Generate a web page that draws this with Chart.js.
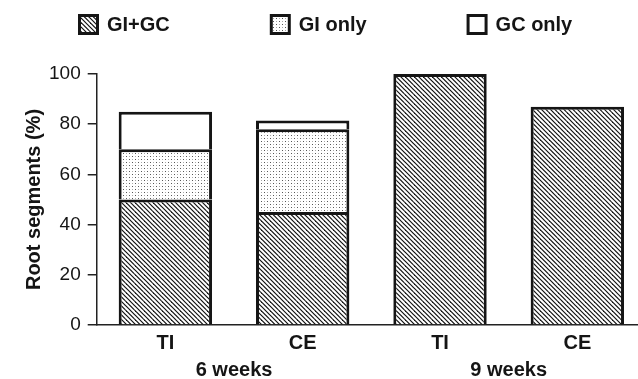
<!DOCTYPE html>
<html>
<head>
<meta charset="utf-8">
<script src="https://cdn.jsdelivr.net/npm/chart.js@4.4.1/dist/chart.umd.min.js"></script>
<style>
  html, body { margin: 0; padding: 0; background: #fff; overflow: hidden; }
  #wrap { width: 646px; height: 379px; }
</style>
</head>
<body>
<div id="wrap"><canvas id="grafico" width="646" height="379"></canvas></div>
<script>
// datos
const categorias = ["TI", "CE", "TI", "CE"];
const grupos = ["6 weeks", "9 weeks"];
const giGc = [50, 45, 100, 87];
const giSolo = [20, 33, null, null];
const gcSolo = [15, 3.5, null, null];
const ticksY = [0, 20, 40, 60, 80, 100];

const FUENTE = "'Liberation Sans', Arial, sans-serif";
const NEGRO = "#151515";

// rayado diagonal
function patronRayado() {
  const c = document.createElement("canvas");
  c.width = 9; c.height = 9;
  const g = c.getContext("2d");
  g.fillStyle = "#fff";
  g.fillRect(0, 0, 9, 9);
  g.strokeStyle = "#111";
  g.lineWidth = 1.2;
  for (let k = -9; k <= 9; k += 4.5) {
    g.beginPath();
    g.moveTo(k - 2, -2);
    g.lineTo(k + 11, 11);
    g.stroke();
  }
  return g.createPattern(c, "repeat");
}

// punteado
function patronPuntos() {
  const c = document.createElement("canvas");
  c.width = 6; c.height = 6;
  const g = c.getContext("2d");
  g.fillStyle = "#fff";
  g.fillRect(0, 0, 6, 6);
  g.fillStyle = "#555";
  g.fillRect(0, 0, 1, 1);
  g.fillRect(3, 3, 1, 1);
  g.fillStyle = "#aaa";
  g.fillRect(3, 0, 1, 1);
  g.fillRect(0, 3, 1, 1);
  return g.createPattern(c, "repeat");
}

// leyenda arriba
const leyenda = {
  id: "leyenda",
  afterDraw(chart) {
    const ctx = chart.ctx;
    ctx.save();
    ctx.font = "bold 20px " + FUENTE;
    ctx.textBaseline = "middle";
    let x = 78;
    const y = 14, lado = 21;
    chart.data.datasets.forEach(ds => {
      ctx.fillStyle = ds.backgroundColor;
      ctx.fillRect(x, y, lado, lado);
      ctx.lineWidth = 3;
      ctx.strokeStyle = NEGRO;
      ctx.strokeRect(x + 1.5, y + 1.5, lado - 3, lado - 3);
      ctx.fillStyle = NEGRO;
      ctx.fillText(ds.label, x + lado + 8, y + lado / 2 + 1);
      x += lado + 8 + ctx.measureText(ds.label).width + 100;
    });
    ctx.restore();
  }
};

// etiquetas de grupo bajo el eje x
const etiquetasGrupo = {
  id: "etiquetasGrupo",
  afterDraw(chart) {
    const ctx = chart.ctx;
    const xs = chart.scales.x;
    ctx.save();
    ctx.font = "bold 20px " + FUENTE;
    ctx.fillStyle = NEGRO;
    ctx.textAlign = "center";
    ctx.textBaseline = "middle";
    grupos.forEach((g, i) => {
      const x = (xs.getPixelForValue(2 * i) + xs.getPixelForValue(2 * i + 1)) / 2;
      ctx.fillText(g, x, xs.bottom + 9);
    });
    ctx.restore();
  }
};

const comun = {
  borderColor: NEGRO,
  borderWidth: 3,
  barPercentage: 0.68,
  categoryPercentage: 1
};

new Chart(document.getElementById("grafico").getContext("2d"), {
  type: "bar",
  data: {
    labels: categorias,
    datasets: [
      { label: "GI+GC", data: giGc, backgroundColor: patronRayado(), ...comun },
      { label: "GI only", data: giSolo, backgroundColor: patronPuntos(), ...comun },
      { label: "GC only", data: gcSolo, backgroundColor: "#fff", ...comun }
    ]
  },
  options: {
    responsive: false,
    animation: false,
    devicePixelRatio: 1,
    layout: { padding: { top: 74, left: 22, right: 0, bottom: 18 } },
    plugins: {
      legend: { display: false },
      tooltip: { enabled: false }
    },
    scales: {
      x: {
        stacked: true,
        grid: { display: false, drawTicks: false },
        border: { display: true, color: "#222", width: 1.5 },
        ticks: {
          color: NEGRO,
          padding: 6,
          font: { family: FUENTE, size: 20, weight: "bold" }
        }
      },
      y: {
        stacked: true,
        min: 0,
        max: 100,
        afterBuildTicks: axis => { axis.ticks = ticksY.map(v => ({ value: v })); },
        grid: { drawOnChartArea: false, color: "#222", lineWidth: 1.5, tickLength: 9 },
        border: { display: true, color: "#222", width: 1.5 },
        ticks: {
          color: NEGRO,
          padding: 7,
          font: { family: FUENTE, size: 19 }
        },
        title: {
          display: true,
          text: "Root segments (%)",
          color: NEGRO,
          padding: { top: 0, bottom: -4 },
          font: { family: FUENTE, size: 20, weight: "bold" }
        }
      }
    }
  },
  plugins: [leyenda, etiquetasGrupo]
});
</script>
</body>
</html>
